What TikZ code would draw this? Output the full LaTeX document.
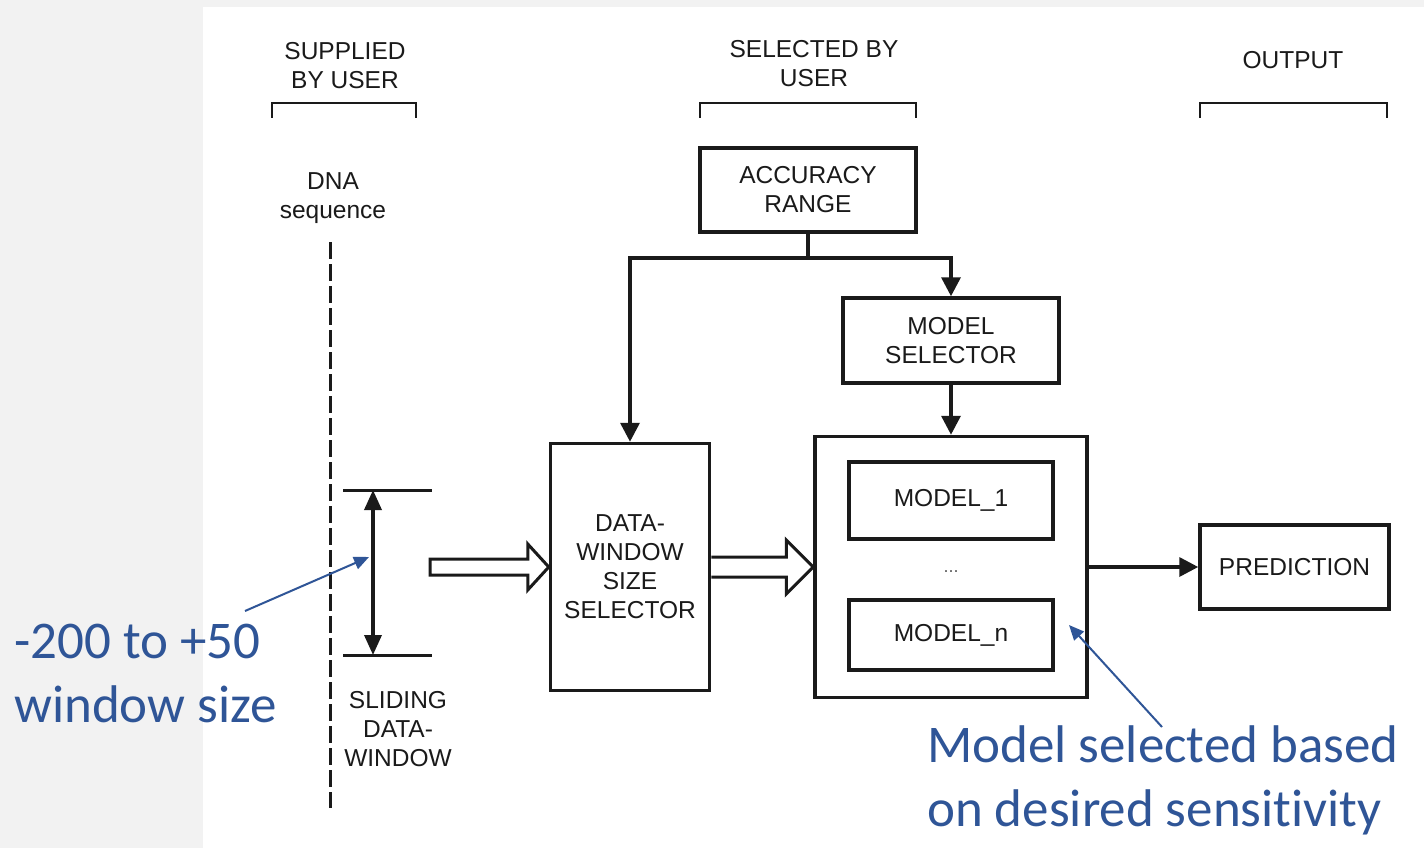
\documentclass[tikz,border=0pt]{standalone}
\usepackage{fontspec}
\setmainfont{Liberation Sans}
\newfontfamily\calib[Ligatures=NoCommon]{Carlito}
\usetikzlibrary{arrows.meta,calc}
\definecolor{bgc}{HTML}{F2F2F2}
\definecolor{ink}{HTML}{1A1A1A}
\definecolor{notec}{HTML}{2F5597}
\begin{document}
\begin{tikzpicture}[x=1pt,y=-1pt,
  lbl/.style={text=ink,font=\fontsize{24.5}{29}\selectfont,align=center,inner sep=0pt},
  box/.style={draw=ink,line width=3.5pt,text=ink,font=\fontsize{24.5}{29}\selectfont,align=center,inner sep=0pt},
  conn/.style={draw=ink,line width=3.5pt},
  arr/.style={conn,-{Triangle[length=19pt,width=19pt]}},
  harrow/.style={draw=ink,line width=3pt,fill=white,line join=miter},
  bracket/.style={draw=ink,line width=2.5pt},
  notetxt/.style={text=notec,font=\calib\fontsize{53}{64}\selectfont,inner sep=0pt},
  lead/.style={draw=notec,line width=2pt,-{Triangle[length=15pt,width=13pt]}}]
\fill[bgc] (0,0) rectangle (1424,848);
\fill[white] (203,7) rectangle (1424,848);
\useasboundingbox (0,0) rectangle (1424,848);

% column headers
\node[lbl] (sup) at (345,66) {SUPPLIED\\BY USER};
\node[lbl] (sel) at (814,64) {SELECTED BY\\USER};
\node[lbl] (out) at (1293,60) {OUTPUT};
\draw[bracket] (272,118) -- (272,103) -- (416,103) -- (416,118);
\draw[bracket] (700,118) -- (700,103) -- (916,103) -- (916,118);
\draw[bracket] (1200,118) -- (1200,103) -- (1387,103) -- (1387,118);

% DNA sequence
\node[lbl] (dna) at (333,198) {DNA\\sequence};
\coordinate (dtop) at (330,242);
\coordinate (dbot) at (330,808);
\draw[ink,line width=3pt,dash pattern=on 17pt off 5pt] (dtop) -- (dbot);

% sliding window
\coordinate (swtl) at (343,490); \coordinate (swtr) at (432,490);
\coordinate (swbl) at (343,655); \coordinate (swbr) at (432,655);
\coordinate (swtop) at (373,490); \coordinate (swbot) at (373,655);
\draw[ink,line width=3pt] (swtl) -- (swtr);
\draw[ink,line width=3pt] (swbl) -- (swbr);
\draw[ink,line width=3.5pt,{Triangle[length=20pt,width=17pt]}-{Triangle[length=20pt,width=17pt]}] (swtop) -- (swbot);
\node[lbl] (sld) at (398,729) {SLIDING\\DATA-\\WINDOW};

% boxes
\node[box,minimum width=216pt,minimum height=84pt] (acc) at (808,190) {ACCURACY\\RANGE};
\node[box,minimum width=216pt,minimum height=85pt] (msel) at (951,340.5) {MODEL\\SELECTOR};
\node[box,minimum width=159pt,minimum height=247pt] (dws) at (630,567) {DATA-\\WINDOW\\SIZE\\SELECTOR};
\node[box,minimum width=272pt,minimum height=261pt] (outer) at (951,567) {};
\node[box,minimum width=204pt,minimum height=77pt] (m1) at (951,500.5) {MODEL\_1};
\node[box,minimum width=204pt,minimum height=70pt] (mn) at (951,635) {MODEL\_n};
\node[text=ink!70,font=\fontsize{18}{18}\selectfont,inner sep=0pt] (dots) at (951,572) {...};
\node[box,minimum width=189pt,minimum height=84pt] (pred) at (1294.5,567) {PREDICTION};

% connectors
\coordinate (j) at ($(acc.south)+(0,24)$);
\draw[conn] (acc.south) -- (j);
\draw[arr] (j) -| (dws.north);
\draw[arr] (j) -| (msel.north);
\draw[arr] (msel.south) -- (outer.north);
\draw[arr] (outer.east) -- (pred.west);

% hollow arrows
\coordinate (swr) at (430,567);
\draw[harrow] ($(swr)+(0,-8)$) -- ($(dws.west)+(-21,-8)$) -- ($(dws.west)+(-21,-23)$) -- (dws.west)
  -- ($(dws.west)+(-21,23)$) -- ($(dws.west)+(-21,8)$) -- ($(swr)+(0,8)$) -- cycle;
\draw[harrow] ($(dws.east)+(0,-10)$) -- ($(outer.west)+(-27,-10)$) -- ($(outer.west)+(-27,-27)$) -- (outer.west)
  -- ($(outer.west)+(-27,27)$) -- ($(outer.west)+(-27,10)$) -- ($(dws.east)+(0,10)$);

% annotations
\node[notetxt,anchor=base west] (n1) at (14,658) {\vtop{\hbox{-200 to +50}\hbox{window size}}};
\node[notetxt,anchor=base west] (n2) at (927,762) {\vtop{\hbox{Model selected based}\hbox{on desired sensitivity}}};
\coordinate (l1s) at (245,611); \coordinate (l1e) at (369,557);
\coordinate (l2s) at (1162,727); \coordinate (l2e) at (1069,625);
\draw[lead] (l1s) -- (l1e);
\draw[lead] (l2s) -- (l2e);
\end{tikzpicture}
\end{document}
